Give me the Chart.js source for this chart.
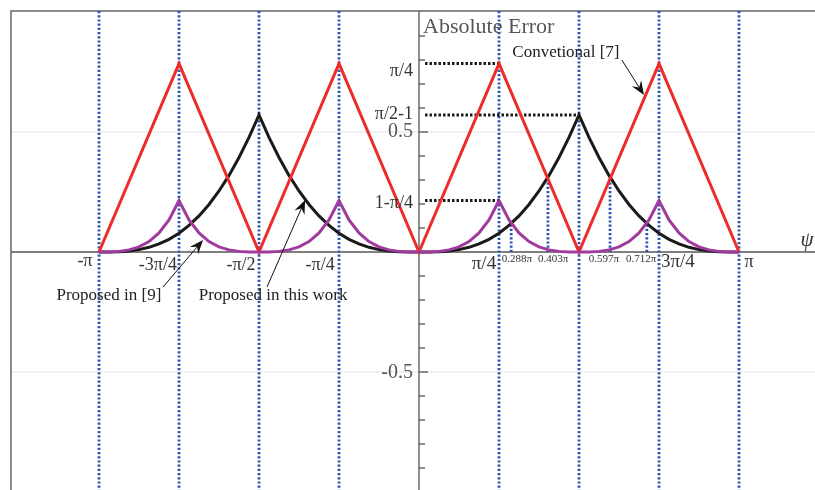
<!DOCTYPE html>
<html>
<head>
<meta charset="utf-8">
<script src="https://cdn.jsdelivr.net/npm/chart.js@4.4.1/dist/chart.umd.min.js"></script>
<style>
  html, body { margin: 0; padding: 0; background: #fff; }
  canvas { display: block; }
</style>
</head>
<body>
<canvas id="err" width="815" height="490"></canvas>
<script>
// x values are in units of pi
const redX = [-1, -0.75, -0.5, -0.25, 0, 0.25, 0.5, 0.75, 1];
const redY = [0, 0.785, 0, 0.785, 0, 0.785, 0, 0.785, 0];

const curveX = [
  -1, -0.96875, -0.9375, -0.90625, -0.875, -0.84375, -0.8125, -0.78125, -0.75,
  -0.71875, -0.6875, -0.65625, -0.625, -0.59375, -0.5625, -0.53125, -0.5,
  -0.46875, -0.4375, -0.40625, -0.375, -0.34375, -0.3125, -0.28125, -0.25,
  -0.21875, -0.1875, -0.15625, -0.125, -0.09375, -0.0625, -0.03125, 0,
  0.03125, 0.0625, 0.09375, 0.125, 0.15625, 0.1875, 0.21875, 0.25,
  0.28125, 0.3125, 0.34375, 0.375, 0.40625, 0.4375, 0.46875, 0.5,
  0.53125, 0.5625, 0.59375, 0.625, 0.65625, 0.6875, 0.71875, 0.75,
  0.78125, 0.8125, 0.84375, 0.875, 0.90625, 0.9375, 0.96875, 1
];

// proposed in this work
const blackY = [
  0, 0.0002, 0.0013, 0.0042, 0.0100, 0.0195, 0.0335, 0.0528, 0.0783,
  0.1106, 0.1503, 0.1980, 0.2542, 0.3193, 0.3937, 0.4774, 0.5708,
  0.4774, 0.3937, 0.3193, 0.2542, 0.1980, 0.1503, 0.1106, 0.0783,
  0.0528, 0.0335, 0.0195, 0.0100, 0.0042, 0.0013, 0.0002, 0,
  0.0002, 0.0013, 0.0042, 0.0100, 0.0195, 0.0335, 0.0528, 0.0783,
  0.1106, 0.1503, 0.1980, 0.2542, 0.3193, 0.3937, 0.4774, 0.5708,
  0.4774, 0.3937, 0.3193, 0.2542, 0.1980, 0.1503, 0.1106, 0.0783,
  0.0528, 0.0335, 0.0195, 0.0100, 0.0042, 0.0013, 0.0002, 0
];

// proposed in [9]
const purpleY = [
  0, 0.0003, 0.0026, 0.0088, 0.0215, 0.0436, 0.0791, 0.1335, 0.2146,
  0.1335, 0.0791, 0.0436, 0.0215, 0.0088, 0.0026, 0.0003, 0,
  0.0003, 0.0026, 0.0088, 0.0215, 0.0436, 0.0791, 0.1335, 0.2146,
  0.1335, 0.0791, 0.0436, 0.0215, 0.0088, 0.0026, 0.0003, 0,
  0.0003, 0.0026, 0.0088, 0.0215, 0.0436, 0.0791, 0.1335, 0.2146,
  0.1335, 0.0791, 0.0436, 0.0215, 0.0088, 0.0026, 0.0003, 0,
  0.0003, 0.0026, 0.0088, 0.0215, 0.0436, 0.0791, 0.1335, 0.2146,
  0.1335, 0.0791, 0.0436, 0.0215, 0.0088, 0.0026, 0.0003, 0
];

// full-height guides and short guides up to the crossings
const guideX = [-1, -0.75, -0.5, -0.25, 0.25, 0.5, 0.75, 1];
const crossX = [0.288, 0.403, 0.597, 0.712];
const crossY = [0.119, 0.310, 0.310, 0.119];

// dotted markers from the y axis to the peaks
const peakX = [0.25, 0.5, 0.25];
const peakY = [0.785, 0.5708, 0.2146];

const yTickLabels = ['π/4', 'π/2-1', '0.5', '1-π/4', '-0.5'];
const yTickPos = [0.754, 0.575, 0.5, 0.204, -0.504];

const xTickLabels = ['-π', '-3π/4', '-π/2', '-π/4', 'π/4', '3π/4', 'π'];
const xTickPos = [-1.044, -0.816, -0.556, -0.309, 0.203, 0.809, 1.031];
const xTickY = [-0.0375, -0.054, -0.054, -0.054, -0.05, -0.042, -0.042];

const crossLabels = ['0.288π', '0.403π', '0.597π', '0.712π'];
const crossLabelX = [0.306, 0.419, 0.578, 0.694];

function pts(xs, ys) {
  return xs.map((x, i) => ({ x: x, y: ys[i] }));
}

function arrow(ctx, x1, y1, x2, y2) {
  const a = Math.atan2(y2 - y1, x2 - x1);
  ctx.save();
  ctx.strokeStyle = '#111';
  ctx.fillStyle = '#111';
  ctx.lineWidth = 1;
  ctx.beginPath();
  ctx.moveTo(x1, y1);
  ctx.lineTo(x2 - 8 * Math.cos(a), y2 - 8 * Math.sin(a));
  ctx.stroke();
  ctx.translate(x2, y2);
  ctx.rotate(a);
  ctx.beginPath();
  ctx.moveTo(0, 0);
  ctx.lineTo(-14, -5.5);
  ctx.lineTo(-9, 0);
  ctx.lineTo(-14, 5.5);
  ctx.closePath();
  ctx.fill();
  ctx.restore();
}

const backdrop = {
  id: 'backdrop',
  beforeDatasetsDraw(chart) {
    const { ctx, chartArea: a } = chart;
    const xs = chart.scales.x, ys = chart.scales.y;
    const px = v => xs.getPixelForValue(v);
    const py = v => ys.getPixelForValue(v);
    ctx.save();

    // faint grid
    ctx.strokeStyle = '#ebebeb';
    ctx.lineWidth = 1.5;
    [0.5, -0.5].forEach(v => {
      ctx.beginPath();
      ctx.moveTo(a.left, py(v));
      ctx.lineTo(a.right, py(v));
      ctx.stroke();
    });

    // frame
    ctx.strokeStyle = '#666';
    ctx.lineWidth = 1.5;
    ctx.beginPath();
    ctx.moveTo(a.left, a.bottom);
    ctx.lineTo(a.left, a.top);
    ctx.lineTo(a.right, a.top);
    ctx.stroke();

    // axes
    ctx.strokeStyle = '#555';
    ctx.lineWidth = 1.3;
    ctx.beginPath();
    ctx.moveTo(a.left, py(0));
    ctx.lineTo(a.right, py(0));
    ctx.moveTo(px(0), a.top);
    ctx.lineTo(px(0), a.bottom);
    ctx.stroke();
    for (let k = -9; k <= 9; k++) {
      if (k === 0) continue;
      const len = k % 5 === 0 ? 9 : 6;
      ctx.beginPath();
      ctx.moveTo(px(0), py(k / 10));
      ctx.lineTo(px(0) + len, py(k / 10));
      ctx.stroke();
    }

    // blue dotted guides
    ctx.strokeStyle = '#2b55b3';
    ctx.lineWidth = 2.8;
    ctx.setLineDash([2.2, 2]);
    guideX.forEach(v => {
      ctx.beginPath();
      ctx.moveTo(px(v), a.top);
      ctx.lineTo(px(v), a.bottom);
      ctx.stroke();
    });
    crossX.forEach((v, i) => {
      ctx.beginPath();
      ctx.moveTo(px(v), py(0));
      ctx.lineTo(px(v), py(crossY[i]));
      ctx.stroke();
    });

    // black dotted peak markers
    ctx.strokeStyle = '#1a1a1a';
    ctx.lineWidth = 3;
    ctx.setLineDash([2.5, 2]);
    peakX.forEach((v, i) => {
      ctx.beginPath();
      ctx.moveTo(px(0) + 6, py(peakY[i]));
      ctx.lineTo(px(v), py(peakY[i]));
      ctx.stroke();
    });
    ctx.restore();
  },
  afterDatasetsDraw(chart) {
    const { ctx } = chart;
    const xs = chart.scales.x, ys = chart.scales.y;
    const px = v => xs.getPixelForValue(v);
    const py = v => ys.getPixelForValue(v);
    const serif = '"Liberation Serif", "DejaVu Serif", serif';
    ctx.save();
    ctx.textBaseline = 'middle';

    // y side labels
    ctx.textAlign = 'right';
    yTickLabels.forEach((t, i) => {
      const num = t === '0.5' || t === '-0.5';
      ctx.font = (num ? '20px ' : '18px ') + serif;
      ctx.fillStyle = num ? '#555' : '#333';
      ctx.fillText(t, px(-0.019), py(yTickPos[i]));
    });

    // x labels
    ctx.textAlign = 'center';
    ctx.fillStyle = '#333';
    xTickLabels.forEach((t, i) => {
      ctx.font = (t === '3π/4' || t === 'π/4' ? '19px ' : '18px ') + serif;
      ctx.fillText(t, px(xTickPos[i]), py(xTickY[i]));
    });
    ctx.font = '11px ' + serif;
    crossLabels.forEach((t, i) => {
      ctx.fillText(t, px(crossLabelX[i]), py(-0.028));
    });

    ctx.font = 'italic 21px ' + serif;
    ctx.fillText('ψ', px(1.2125), py(0.046));

    // title and annotations
    ctx.textAlign = 'left';
    ctx.fillStyle = '#555';
    ctx.font = '22px ' + serif;
    ctx.fillText('Absolute Error', px(0.0125), py(0.9375));

    ctx.textAlign = 'center';
    ctx.fillStyle = '#222';
    ctx.font = '17px ' + serif;
    ctx.fillText('Convetional [7]', px(0.459), py(0.833));
    ctx.fillText('Proposed in [9]', px(-0.969), py(-0.183));
    ctx.fillText('Proposed in this work', px(-0.456), py(-0.183));

    arrow(ctx, px(0.634), py(0.80), px(0.703), py(0.654));
    arrow(ctx, px(-0.800), py(-0.146), px(-0.675), py(0.05));
    arrow(ctx, px(-0.475), py(-0.146), px(-0.356), py(0.217));
    ctx.restore();
  }
};

new Chart(document.getElementById('err'), {
  type: 'line',
  data: {
    datasets: [
      { label: 'Proposed in [9]', data: pts(curveX, purpleY), borderColor: '#a03a9c', order: 0 },
      { label: 'Convetional [7]', data: pts(redX, redY), borderColor: '#ee2a2a', order: 1 },
      { label: 'Proposed in this work', data: pts(curveX, blackY), borderColor: '#1a1a1a', order: 2 }
    ]
  },
  options: {
    responsive: false,
    animation: false,
    layout: { padding: { left: 11, top: 11, right: 0, bottom: 0 } },
    elements: {
      line: { borderWidth: 3, tension: 0, fill: false, borderJoinStyle: 'miter' },
      point: { radius: 0 }
    },
    scales: {
      x: { type: 'linear', min: -1.275, max: 1.2375, display: false },
      y: { type: 'linear', min: -0.99167, max: 1.00417, display: false }
    },
    plugins: {
      legend: { display: false },
      tooltip: { enabled: false }
    }
  },
  plugins: [backdrop]
});
</script>
</body>
</html>
